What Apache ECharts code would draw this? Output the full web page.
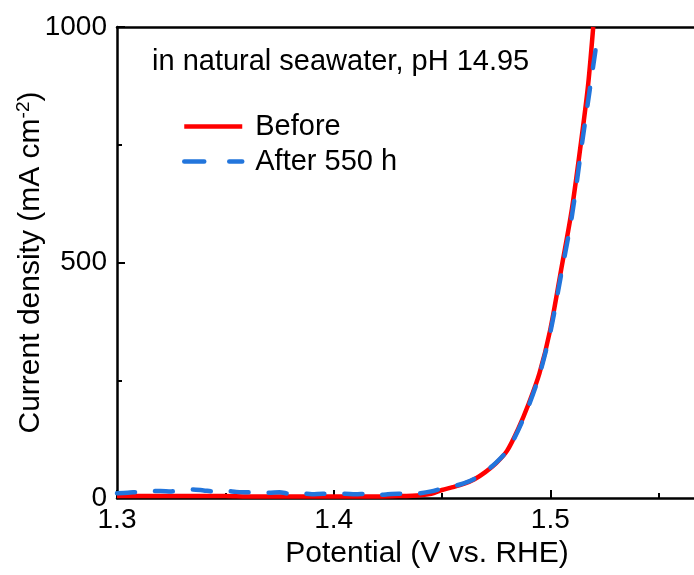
<!DOCTYPE html>
<html>
<head>
<meta charset="utf-8">
<script src="https://cdn.jsdelivr.net/npm/echarts@6/dist/echarts.min.js"></script>
<style>html,body{margin:0;padding:0;background:#fff;}#c{width:694px;height:575px;}</style>
</head>
<body>
<div id="c"></div>
<script>
// ---- data ----
var seriesNames = ['Before', 'After 550 h'];
var beforeV = [1.30,1.31,1.32,1.33,1.34,1.35,1.36,1.37,1.38,1.39,1.40,1.41,1.42,1.43,1.44,1.445,1.45,1.455,1.46,1.465,1.47,1.475,1.48,1.485,1.49,1.495,1.50,1.505,1.51,1.515,1.5175,1.5198];
var beforeJ = [4,4,4,4,4,4,3,3,3,3,3,3,3,4,6,9,17,23,30,40,55,74,100,145,200,265,358,485,615,785,880,1000];
var afterV = [1.30,1.305,1.31,1.315,1.32,1.325,1.33,1.335,1.34,1.345,1.35,1.355,1.36,1.365,1.37,1.375,1.38,1.385,1.39,1.395,1.40,1.405,1.41,1.415,1.42,1.425,1.43,1.435,1.44,1.445,1.45,1.455,1.46,1.465,1.47,1.475,1.48,1.485,1.49,1.495,1.50,1.505,1.51,1.515,1.5213];
var afterJ = [10,11,13,14,15,14,17,18,16,14,15,13,12,13,11,12,9,10,8,9,7,9,8,9,6,8,9,8,10,14,20,25,31,41,56,75,100,142,196,262,352,475,600,765,965];
var xTicks = {min: 1.3, max: 1.6, interval: 0.1};
var yTicks = {min: 0, max: 1000, interval: 500};
var annotation = 'in natural seawater, pH 14.95';

function pairs(xs, ys) { return xs.map(function (x, i) { return [x, ys[i]]; }); }

var chart = echarts.init(document.getElementById('c'), null, {renderer: 'canvas'});
var FONT = 'Liberation Sans, Arial, sans-serif';
chart.setOption({
  animation: false,
  backgroundColor: '#ffffff',
  grid: {left: 117, top: 27, bottom: 77, right: -73, containLabel: false, outerBoundsMode: 'none'},
  legend: {
    orient: 'vertical', left: 182, top: 112, padding: 0,
    itemWidth: 58, itemHeight: 14, itemGap: 6,
    itemStyle: {opacity: 0},
    lineStyle: {width: 4.5},
    textStyle: {fontFamily: FONT, fontSize: 29, color: '#000', padding: [0, 0, 0, 8]},
    data: [
      {name: seriesNames[0], lineStyle: {width: 4.5}},
      {name: seriesNames[1], lineStyle: {width: 4.5, type: [20, 25], cap: 'round'}}
    ]
  },
  xAxis: [{
    type: 'value', position: 'bottom', min: xTicks.min, max: xTicks.max, interval: xTicks.interval,
    axisLine: {show: true, onZero: false, lineStyle: {color: '#000', width: 2.5}},
    axisTick: {show: true, inside: true, length: 8, lineStyle: {color: '#000', width: 2}},
    minorTick: {show: true, splitNumber: 2, length: 5, lineStyle: {color: '#000', width: 2}},
    splitLine: {show: false},
    axisLabel: {fontFamily: FONT, fontSize: 28, color: '#000', margin: 8,
      formatter: function (v) { return v.toFixed(1); }},
    name: 'Potential (V vs. RHE)', nameLocation: 'middle', nameGap: 40,
    nameTextStyle: {fontFamily: FONT, fontSize: 30, color: '#000', padding: [0, 30, 0, 0]}
  }, {
    type: 'value', position: 'top', min: xTicks.min, max: xTicks.max, interval: xTicks.interval,
    axisLine: {show: true, onZero: false, lineStyle: {color: '#000', width: 2.5}},
    axisTick: {show: false}, axisLabel: {show: false}, splitLine: {show: false}
  }],
  yAxis: [{
    type: 'value', min: yTicks.min, max: yTicks.max, interval: yTicks.interval,
    axisLine: {show: true, onZero: false, lineStyle: {color: '#000', width: 2.5}},
    axisTick: {show: true, inside: true, length: 8, lineStyle: {color: '#000', width: 2}},
    minorTick: {show: true, splitNumber: 2, length: 5, lineStyle: {color: '#000', width: 2}},
    splitLine: {show: false},
    axisLabel: {fontFamily: FONT, fontSize: 28, color: '#000', margin: 10,
      formatter: function (v) { return String(v); }},
    name: 'Current density (mA cm{sup|-2})', nameLocation: 'middle', nameGap: 70, nameRotate: 90,
    nameMoveOverlap: false,
    nameTextStyle: {fontFamily: FONT, fontSize: 30, color: '#000',
      rich: {sup: {fontFamily: FONT, fontSize: 19, color: '#000', verticalAlign: 'top', padding: [0, 0, 14, 0]}}}
  }],
  series: [{
    name: seriesNames[0], type: 'line', data: pairs(beforeV, beforeJ), showSymbol: false, symbol: 'none',
    smooth: 0.3, z: 2,
    lineStyle: {color: '#ff0000', width: 4.5}, itemStyle: {color: '#ff0000'}
  }, {
    name: seriesNames[1], type: 'line', data: pairs(afterV, afterJ), showSymbol: false, symbol: 'none',
    smooth: 0.3, z: 3,
    lineStyle: {color: '#2275dc', width: 4.5, type: [18, 20], cap: 'round'}, itemStyle: {color: '#2275dc'}
  }],
  graphic: [{
    type: 'text', left: 152, top: 47,
    style: {text: annotation, fontFamily: FONT, fontSize: 29, fill: '#000'}
  }]
});
</script>
</body>
</html>
